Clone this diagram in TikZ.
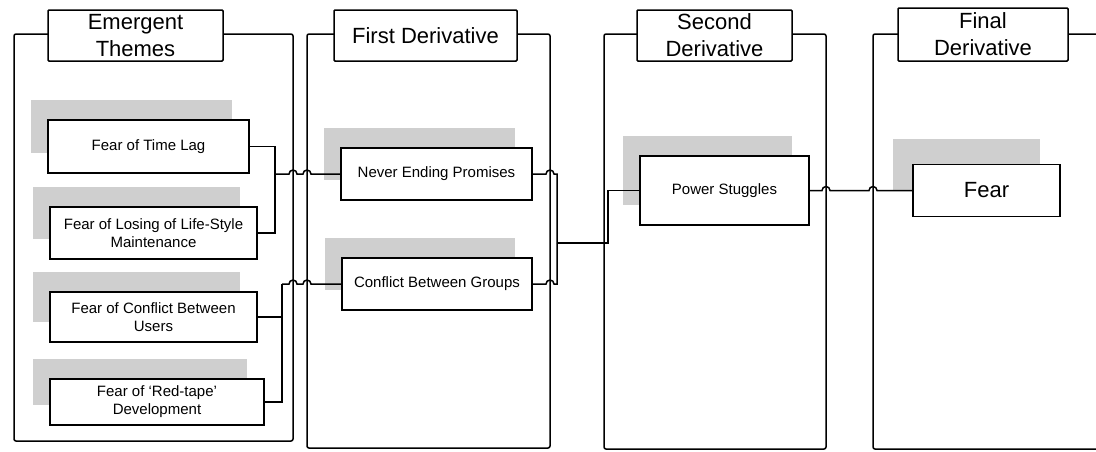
\documentclass[tikz,border=0pt]{standalone}
\usepackage{fontspec}
\setmainfont{Liberation Sans}
\usetikzlibrary{calc,shadows}
\begin{document}
\begin{tikzpicture}[x=1pt,y=-1pt,
  line width=1.5pt,
  frame/.style={draw, rectangle, outer sep=0pt, inner sep=0pt, rounded corners=2pt},
  titlebox/.style={draw, fill=white, rectangle, outer sep=0pt, inner sep=0pt,
    rounded corners=1pt, align=center, font=\fontsize{22}{27}\selectfont},
  plainbox/.style={draw, fill=white, rectangle, outer sep=0pt, inner sep=0pt,
    align=center, font=\fontsize{15}{18}\selectfont},
  boxshadow/.style 2 args={general shadow={fill=gray!38, shadow xshift=#1, shadow yshift=#2}},
  theme/.style={plainbox, boxshadow={-17pt}{20pt}},
  link/.style={draw, line width=1.5pt},
  hop/.style={start angle=180, end angle=0, radius=4pt},
]
\useasboundingbox (0,0) rectangle (1096,451);
\begin{scope}
\clip (0,0) rectangle (1096,451);

% column frames
\node[frame, minimum width=279, minimum height=407] (f1) at (153.5,237.5) {};
\node[frame, minimum width=243, minimum height=414] (f2) at (428.5,241) {};
\node[frame, minimum width=222, minimum height=415] (f3) at (715,241.5) {};
\node[frame, minimum width=237, minimum height=415] (f4) at (991.5,241.5) {};

% column titles
\node[titlebox, minimum width=175, minimum height=51] (h1) at (135.5,35.5) {Emergent\\Themes};
\node[titlebox, minimum width=183, minimum height=51] (h2) at (425.5,35.5) {First Derivative};
\node[titlebox, minimum width=155, minimum height=51] (h3) at (714.5,35.5) {Second\\Derivative};
\node[titlebox, minimum width=170, minimum height=53] (h4) at (983,34.5) {Final\\Derivative};

% emergent themes
\node[theme, minimum width=201, minimum height=53] (t1) at (148.5,146.5) {Fear of Time Lag};
\node[theme, minimum width=207, minimum height=52] (t2) at (153.5,233) {Fear of Losing of Life-Style\\Maintenance};
\node[theme, minimum width=207, minimum height=50] (t3) at (153.5,317) {Fear of Conflict Between\\Users};
\node[theme, minimum width=214, minimum height=46] (t4) at (157,402) {Fear of `Red-tape'\\Development};

% first derivative
\node[theme, minimum width=191, minimum height=52] (n1) at (436.5,174) {Never Ending Promises};
\node[theme, minimum width=190, minimum height=52] (n2) at (437,284) {Conflict Between Groups};

% second derivative
\node[theme, minimum width=169, minimum height=69] (p) at (724.5,190.5) {Power Stuggles};

% final derivative
\node[plainbox, boxshadow={-20pt}{26pt}, minimum width=147, minimum height=52,
  font=\fontsize{22}{26}\selectfont] (fear) at (986.5,190.5) {Fear};

% junctions of the connectors
\coordinate (b1) at (275,174);
\coordinate (b3) at (282,284);
\coordinate (b2) at (557,243);
\coordinate (c3) at (608,190.5);

% emergent themes to first derivative
\draw[link] (t1.east) -| (b1);
\draw[link] (t2.east) -| (b1);
\draw[link] (b1) -- ($(b1 -| f1.east)+(-4,0)$) arc[hop]
  -- ($(b1 -| f2.west)+(-4,0)$) arc[hop] -- (n1.west);
\draw[link] (t3.east) -| (b3);
\draw[link] (t4.east) -| (b3);
\draw[link] (b3) -- ($(b3 -| f1.east)+(-4,0)$) arc[hop]
  -- ($(b3 -| f2.west)+(-4,0)$) arc[hop] -- (n2.west);

% first derivative to second derivative
\draw[link] (n1.east) -- ($(n1.east -| f2.east)+(-4,0)$) arc[hop] -| (b2);
\draw[link] (n2.east) -- ($(n2.east -| f2.east)+(-4,0)$) arc[hop] -| (b2);
\draw[link] (b2) -| (c3) -- (p.west);

% second derivative to final derivative
\draw[link] (p.east) -- ($(p.east -| f3.east)+(-4,0)$) arc[hop]
  -- ($(p.east -| f4.west)+(-4,0)$) arc[hop] -- (fear.west);
\end{scope}
\end{tikzpicture}
\end{document}
